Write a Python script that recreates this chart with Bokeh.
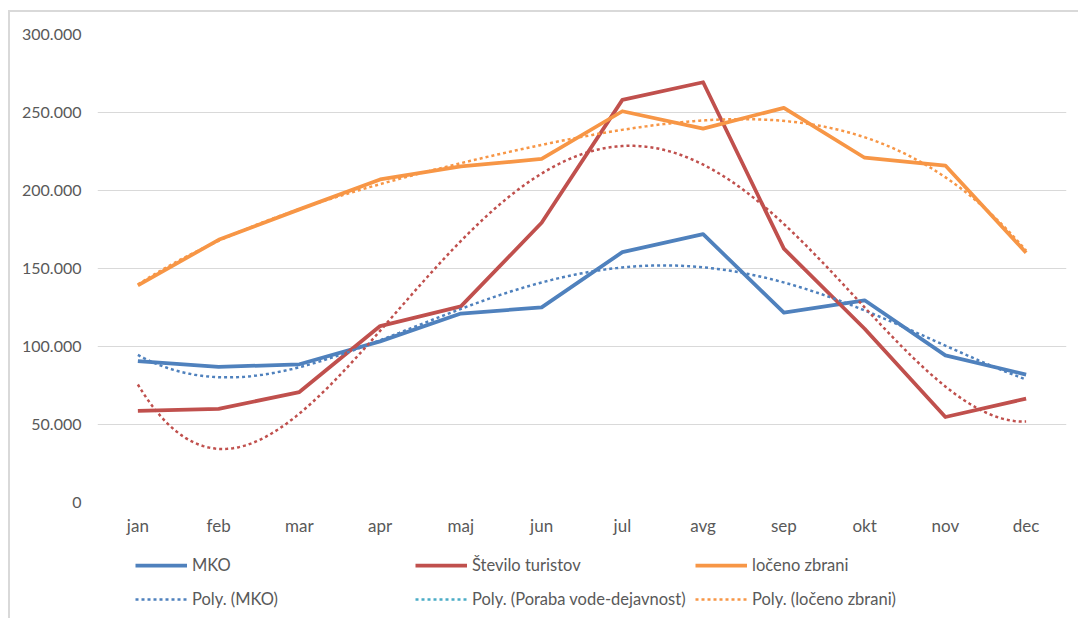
import numpy as np
from bokeh.plotting import figure
from bokeh.layouts import column
from bokeh.models import Range1d, FixedTicker, Legend, LegendItem
from bokeh.embed import file_html
from bokeh.resources import INLINE

# ---- data ----
months = ["jan", "feb", "mar", "apr", "maj", "jun", "jul", "avg", "sep", "okt", "nov", "dec"]
mko = [90700, 86900, 88600, 103300, 121100, 125100, 160500, 172000, 121700, 129600, 94300, 82000]
turisti = [58700, 60000, 70800, 113100, 125700, 179300, 258100, 269400, 162700, 111400, 54800, 66600]
loceno = [139200, 168400, 187900, 207100, 215400, 220300, 250800, 239700, 253000, 221000, 216000, 160100]
y_ticks = [0, 50000, 100000, 150000, 200000, 250000, 300000]
y_tick_labels = ["0", "50.000", "100.000", "150.000", "200.000", "250.000", "300.000"]
series_names = ["MKO", "Število turistov", "ločeno zbrani"]
trend_names = ["Poly. (MKO)", "Poly. (Poraba vode-dejavnost)", "Poly. (ločeno zbrani)"]
trend_order = 4

# ---- style ----
BLUE = "#4f81bd"
RED = "#c0504d"
ORANGE = "#f79646"
TEAL = "#4bacc6"
TXT = "#595959"
GRID = "#d9d9d9"
FONT = "Lato"
SOLID = dict(line_width=3.75, line_join="round")
DOTTED = dict(line_width=2.5, line_dash="3 3")

x = np.arange(1, len(months) + 1)

p = figure(width=1068, height=528, output_backend="svg", toolbar_location=None,
           x_range=Range1d(0.5, 12.5), y_range=Range1d(0, 300000),
           min_border_left=87, min_border_right=12, min_border_top=22, min_border_bottom=38)
p.outline_line_color = None
p.background_fill_color = "white"
p.border_fill_color = "white"

# axes
p.xaxis.ticker = FixedTicker(ticks=list(x))
p.xaxis.major_label_overrides = {int(i): m for i, m in zip(x, months)}
p.yaxis.ticker = FixedTicker(ticks=y_ticks)
p.yaxis.major_label_overrides = {t: l for t, l in zip(y_ticks, y_tick_labels)}
for ax in (p.xaxis, p.yaxis):
    ax.axis_line_color = None
    ax.major_tick_line_color = None
    ax.minor_tick_line_color = None
    ax.major_tick_out = 0
    ax.major_label_text_font = FONT
    ax.major_label_text_color = TXT
p.yaxis.major_label_text_font_size = "16px"
p.xaxis.major_label_text_font_size = "17px"
p.yaxis.major_label_standoff = 16
p.xaxis.major_label_standoff = 12
p.xgrid.grid_line_color = None
p.ygrid.grid_line_color = GRID
p.ygrid.grid_line_width = 1

# main series
p.line(x, mko, line_color=BLUE, **SOLID)
p.line(x, turisti, line_color=RED, **SOLID)
p.line(x, loceno, line_color=ORANGE, **SOLID)

# polynomial (order 4) trendlines fitted to the series, as the source chart does
xf = np.linspace(1, 12, 300)
def trend(vals):
    c = np.polyfit(x, vals, trend_order)
    return np.polyval(c, xf)

p.line(xf, trend(mko), line_color=BLUE, **DOTTED)
p.line(xf, trend(turisti), line_color=RED, **DOTTED)
p.line(xf, trend(loceno), line_color=ORANGE, **DOTTED)

# ---- legend strip (separate figure so the legend is not clipped) ----
lg = figure(width=1068, height=78, output_backend="svg", toolbar_location=None,
            x_range=Range1d(0, 1), y_range=Range1d(0, 1),
            x_axis_type=None, y_axis_type=None,
            min_border=0, min_border_left=0, min_border_right=0,
            min_border_top=0, min_border_bottom=0)
lg.outline_line_color = None
lg.grid.visible = False

nan = np.array([np.nan])
k_mko = lg.line(nan, nan, line_color=BLUE, **SOLID)
k_tur = lg.line(nan, nan, line_color=RED, **SOLID)
k_loc = lg.line(nan, nan, line_color=ORANGE, **SOLID)
k_tmko = lg.line(nan, nan, line_color=BLUE, **DOTTED)
k_tpor = lg.line(nan, nan, line_color=TEAL, **DOTTED)
k_tloc = lg.line(nan, nan, line_color=ORANGE, **DOTTED)

def make_legend(items, vx):
    leg = Legend(items=items, location=(vx, 9), orientation="vertical",
                 glyph_width=52, glyph_height=20, label_height=20, label_standoff=5,
                 spacing=14, padding=0, margin=0, border_line_color=None,
                 background_fill_alpha=0, label_text_font=FONT,
                 label_text_font_size="16.5px", label_text_color=TXT)
    lg.add_layout(leg, "center")

make_legend([LegendItem(label=series_names[0], renderers=[k_mko]),
             LegendItem(label=trend_names[0], renderers=[k_tmko])], 38)
make_legend([LegendItem(label=series_names[1], renderers=[k_tur]),
             LegendItem(label=trend_names[1], renderers=[k_tpor])], 318)
make_legend([LegendItem(label=series_names[2], renderers=[k_loc]),
             LegendItem(label=trend_names[2], renderers=[k_tloc])], 598)

layout = column(p, lg, spacing=0, margin=(10, 0, 0, 8),
                styles={"border-left": "2px solid #d9d9d9", "border-top": "2px solid #d9d9d9"})

open("out.html", "w").write(file_html(layout, INLINE))
